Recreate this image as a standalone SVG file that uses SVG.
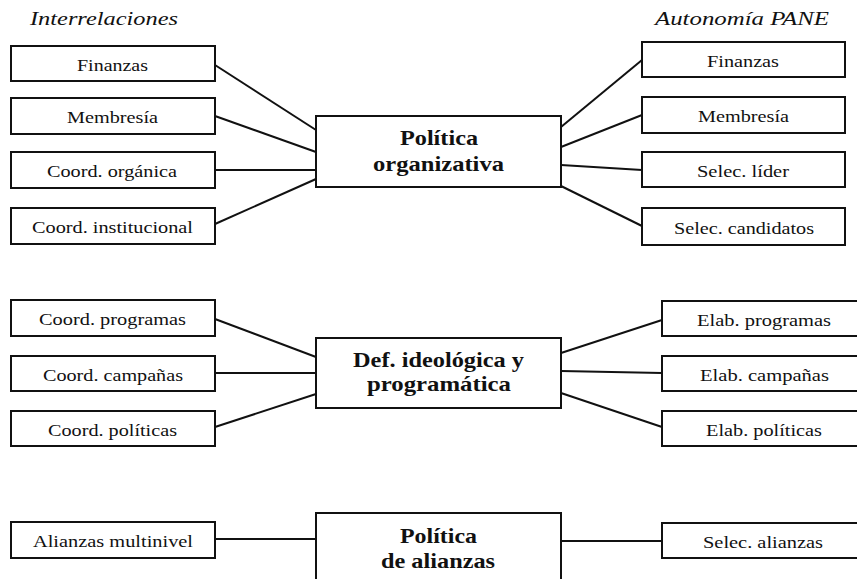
<svg xmlns="http://www.w3.org/2000/svg" width="857" height="579" viewBox="0 0 857 579">
<style>
rect{fill:#fff;stroke:#111;stroke-width:2}
.c line{stroke:#111;stroke-width:2}
text{font-family:"Liberation Serif","Times New Roman",serif;fill:#111}
.t{font-size:17px}
.b{font-size:21px;font-weight:bold}
.h{font-size:18px;font-style:italic}
</style>
<rect x="0" y="0" width="857" height="579" style="stroke:none"/>
<text class="h" x="30" y="25" textLength="148" lengthAdjust="spacingAndGlyphs">Interrelaciones</text>
<text class="h" x="655" y="25" textLength="174" lengthAdjust="spacingAndGlyphs">Autonomía PANE</text>
<g class="c" id="connectors">
<line x1="215" y1="65" x2="316" y2="130"/>
<line x1="215" y1="116" x2="316" y2="152"/>
<line x1="215" y1="170" x2="316" y2="170"/>
<line x1="215" y1="224" x2="316" y2="179"/>
<line x1="561" y1="127" x2="642" y2="60"/>
<line x1="561" y1="147" x2="642" y2="115"/>
<line x1="561" y1="165" x2="642" y2="170"/>
<line x1="561" y1="186" x2="642" y2="226"/>
<line x1="215" y1="319" x2="316" y2="357"/>
<line x1="215" y1="373" x2="316" y2="373"/>
<line x1="215" y1="427" x2="316" y2="394"/>
<line x1="561" y1="353" x2="662" y2="320"/>
<line x1="561" y1="371" x2="662" y2="373"/>
<line x1="561" y1="393" x2="662" y2="427"/>
<line x1="215" y1="539" x2="316" y2="539"/>
<line x1="561" y1="541" x2="662" y2="541"/>
</g>
<g id="c1"><rect x="316" y="116" width="245" height="71"/>
<text class="b" x="400" y="145" textLength="78" lengthAdjust="spacingAndGlyphs">Política</text>
<text class="b" x="373" y="170.5" textLength="131" lengthAdjust="spacingAndGlyphs">organizativa</text></g>
<g id="c2"><rect x="316" y="338" width="245" height="70"/>
<text class="b" x="353" y="367" textLength="171" lengthAdjust="spacingAndGlyphs">Def. ideológica y</text>
<text class="b" x="367" y="390.5" textLength="144" lengthAdjust="spacingAndGlyphs">programática</text></g>
<g id="c3"><rect x="316" y="513" width="245" height="80"/>
<text class="b" x="400" y="543" textLength="77" lengthAdjust="spacingAndGlyphs">Política</text>
<text class="b" x="381" y="568" textLength="114" lengthAdjust="spacingAndGlyphs">de alianzas</text></g>
<g id="l1"><rect x="11" y="46" width="204" height="35"/><text class="t" x="77" y="71" textLength="71" lengthAdjust="spacingAndGlyphs">Finanzas</text></g>
<g id="l2"><rect x="11" y="98" width="204" height="36"/><text class="t" x="67" y="123" textLength="91" lengthAdjust="spacingAndGlyphs">Membresía</text></g>
<g id="l3"><rect x="11" y="152" width="204" height="36"/><text class="t" x="47" y="177" textLength="130" lengthAdjust="spacingAndGlyphs">Coord. orgánica</text></g>
<g id="l4"><rect x="11" y="208" width="204" height="36"/><text class="t" x="32" y="233" textLength="161" lengthAdjust="spacingAndGlyphs">Coord. institucional</text></g>
<g id="l5"><rect x="11" y="300" width="204" height="36"/><text class="t" x="39" y="325" textLength="147" lengthAdjust="spacingAndGlyphs">Coord. programas</text></g>
<g id="l6"><rect x="11" y="356" width="204" height="35"/><text class="t" x="43" y="380.5" textLength="140" lengthAdjust="spacingAndGlyphs">Coord. campañas</text></g>
<g id="l7"><rect x="11" y="411" width="204" height="35"/><text class="t" x="48" y="435.5" textLength="129" lengthAdjust="spacingAndGlyphs">Coord. políticas</text></g>
<g id="l8"><rect x="11" y="522" width="204" height="36"/><text class="t" x="33" y="547" textLength="160" lengthAdjust="spacingAndGlyphs">Alianzas multinivel</text></g>
<g id="r1"><rect x="642" y="42" width="203" height="35"/><text class="t" x="707" y="66.5" textLength="72" lengthAdjust="spacingAndGlyphs">Finanzas</text></g>
<g id="r2"><rect x="642" y="97" width="203" height="36"/><text class="t" x="698" y="122" textLength="91" lengthAdjust="spacingAndGlyphs">Membresía</text></g>
<g id="r3"><rect x="642" y="152" width="203" height="35"/><text class="t" x="697" y="177" textLength="92" lengthAdjust="spacingAndGlyphs">Selec. líder</text></g>
<g id="r4"><rect x="642" y="208" width="203" height="37"/><text class="t" x="674" y="233.5" textLength="140" lengthAdjust="spacingAndGlyphs">Selec. candidatos</text></g>
<g id="r5"><rect x="662" y="301" width="204" height="35"/><text class="t" x="697" y="325.5" textLength="134" lengthAdjust="spacingAndGlyphs">Elab. programas</text></g>
<g id="r6"><rect x="662" y="356" width="204" height="35"/><text class="t" x="700" y="380.5" textLength="129" lengthAdjust="spacingAndGlyphs">Elab. campañas</text></g>
<g id="r7"><rect x="662" y="411" width="204" height="35"/><text class="t" x="706" y="435.5" textLength="116" lengthAdjust="spacingAndGlyphs">Elab. políticas</text></g>
<g id="r8"><rect x="662" y="523" width="204" height="35"/><text class="t" x="703" y="547.5" textLength="120" lengthAdjust="spacingAndGlyphs">Selec. alianzas</text></g>
</svg>
